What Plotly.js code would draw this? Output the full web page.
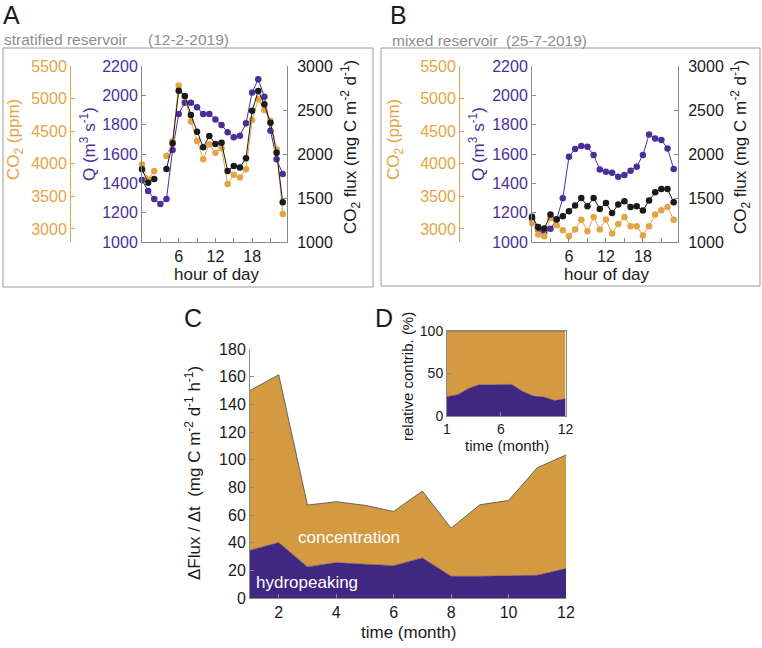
<!DOCTYPE html>
<html><head><meta charset="utf-8">
<script src="https://cdn.plot.ly/plotly-3.0.1.min.js"></script>
<style>html,body{margin:0;padding:0;background:#fff}#chart{width:762px;height:648px}</style>
</head><body><div id="chart"></div>
<script>
// ---------- data ----------
const hours = [0,1,2,3,4,5,6,7,8,9,10,11,12,13,14,15,16,17,18,19,20,21,22,23];
const hourTickVals = [3,6,9,12,15,18,21];
const hourTickText = ['', '6', '', '12', '', '18', ''];

// Panel A: stratified reservoir (12-2-2019)
const A_co2  = [3990,3760,3890,null,4120,4350,5200,5030,4650,4350,4070,4300,4170,4240,3690,3830,3790,3915,4670,4990,4825,4660,4220,3230];
const A_Q    = [1423,1348,1293,1259,1293,1627,1873,1950,1950,1918,1873,1873,1836,1798,1748,1714,1725,1809,2020,2109,1991,1759,1564,1464];
const A_flux = [1826,1674,1716,null,1830,2121,2720,2659,2443,2254,2076,2205,2114,2129,1807,1864,1848,1951,2492,2716,2564,2356,2015,1451];

// Panel B: mixed reservoir (25-7-2019)
const B_co2  = [3092,2914,2888,3169,3057,2980,2888,2990,3140,2965,3182,2990,3144,2929,3077,3184,3041,3041,2899,3041,3220,3287,3338,3140];
const B_Q    = [1160,1085,1070,1090,1155,1298,1581,1634,1654,1649,1593,1495,1479,1473,1445,1457,1486,1513,1593,1733,1706,1695,1638,1498];
const B_flux = [1288,1171,1152,1312,1255,1292,1349,1414,1501,1406,1501,1376,1444,1330,1426,1463,1398,1406,1357,1471,1566,1603,1603,1452];

// Panel C: monthly stacked contributions
const months = [1,2,3,4,5,6,7,8,9,10,11,12];
const C_hydro = [34.5,40.1,22.5,25.6,24.4,23.4,29.0,15.7,15.7,16.0,16.4,21.3];
const C_conc  = [115.5,121.3,44.7,44.0,42.6,39.2,48.3,34.8,51.7,54.5,77.8,82.1];

// Panel D: relative contribution of hydropeaking (%)
const D_hydroShare = [22.7,25.0,32.4,36.7,36.7,37.1,37.2,29.0,23.4,22.3,18.2,20.3];

// ---------- styling ----------
const W = 762, H = 648;
const FONT = 'Liberation Sans, Arial, sans-serif';
const PURPLE = '#4A2F9A', ORANGE = '#E2A544', BLACK = '#1a1a1a';
const PURPLE_FILL = '#3F2782', ORANGE_FILL = '#D39A42';
const AXGRAY = '#8a8a8a';
const fx = p => p / W;
const fy = p => 1 - p / H;

function lt(x, y, xa, ya, color) {
  return {type:'scatter', mode:'lines+markers', x:x, y:y, xaxis:xa, yaxis:ya,
    line:{color:color, width:1}, marker:{color:color, size:6.5}, hoverinfo:'skip', cliponaxis:false};
}

const traces = [
  lt(hours, A_Q, 'x', 'y', PURPLE),
  lt(hours, A_co2, 'x', 'y2', ORANGE),
  lt(hours, A_flux, 'x', 'y3', BLACK),
  lt(hours, B_Q, 'x2', 'y4', PURPLE),
  lt(hours, B_co2, 'x2', 'y5', ORANGE),
  lt(hours, B_flux, 'x2', 'y6', BLACK),
  {type:'scatter', mode:'lines', x:months, y:C_hydro, xaxis:'x3', yaxis:'y7', stackgroup:'c',
    fillcolor:PURPLE_FILL, line:{color:PURPLE_FILL, width:0.5}, hoverinfo:'skip'},
  {type:'scatter', mode:'lines', x:months, y:C_conc, xaxis:'x3', yaxis:'y7', stackgroup:'c',
    fillcolor:ORANGE_FILL, line:{color:'#4a4a4a', width:0.8}, hoverinfo:'skip'},
  {type:'scatter', mode:'lines', x:months, y:D_hydroShare, xaxis:'x4', yaxis:'y8', stackgroup:'d',
    fillcolor:PURPLE_FILL, line:{color:PURPLE_FILL, width:0.5}, hoverinfo:'skip'},
  {type:'scatter', mode:'lines', x:months, y:D_hydroShare.map(v => 100 - v), xaxis:'x4', yaxis:'y8', stackgroup:'d',
    fillcolor:ORANGE_FILL, line:{color:'#6b5a35', width:0.8}, hoverinfo:'skip'}
];

const tf = (c, s) => ({family:FONT, size:s || 16, color:c || BLACK});
const base = {showgrid:false, zeroline:false, showline:true, linecolor:AXGRAY, linewidth:1,
  ticks:'inside', ticklen:4, tickcolor:AXGRAY, tickfont:tf(BLACK), fixedrange:true};

const hx = (dom, anchor) => Object.assign({}, base, {domain:dom, anchor:anchor, range:[0, 23.7],
  tickmode:'array', tickvals:hourTickVals, ticktext:hourTickText});
const qy = (dom, anchor) => Object.assign({}, base, {domain:dom, anchor:anchor, range:[1000, 2200],
  dtick:200, tick0:1000, tickfont:tf(PURPLE)});
const cy = (over, pos) => Object.assign({}, base, {overlaying:over, anchor:'free', position:pos, side:'left',
  range:[2800, 5500], tickmode:'array', tickvals:[3000,3500,4000,4500,5000,5500],
  linecolor:ORANGE, tickcolor:ORANGE, tickfont:tf(ORANGE)});
const fyx = (over, anchor) => Object.assign({}, base, {overlaying:over, anchor:anchor, side:'right',
  range:[1000, 3000], dtick:500, tick0:1000, ticklabelstandoff:6});

const yDomAB = [fy(242), fy(66)];

const layout = {
  width:W, height:H, margin:{l:0, r:0, t:0, b:0},
  paper_bgcolor:'#ffffff', plot_bgcolor:'rgba(0,0,0,0)', showlegend:false,
  font:{family:FONT, size:16, color:BLACK},
  xaxis: hx([fx(142), fx(287)], 'y'),
  yaxis: qy(yDomAB, 'x'),
  yaxis2: cy('y', fx(70)),
  yaxis3: fyx('y', 'x'),
  xaxis2: hx([fx(532), fx(678)], 'y4'),
  yaxis4: qy(yDomAB, 'x2'),
  yaxis5: cy('y4', fx(459)),
  yaxis6: fyx('y4', 'x2'),
  xaxis3: Object.assign({}, base, {domain:[fx(250), fx(566)], anchor:'y7', range:[1, 12],
    tickmode:'array', tickvals:[2,4,6,8,10,12]}),
  yaxis7: Object.assign({}, base, {domain:[fy(598), fy(349)], anchor:'x3', range:[0, 180], dtick:20, tick0:0}),
  xaxis4: Object.assign({}, base, {domain:[fx(447), fx(565.5)], anchor:'y8', range:[1, 12], mirror:true,
    tickmode:'array', tickvals:[1,6,12], tickfont:tf(BLACK, 14)}),
  yaxis8: Object.assign({}, base, {domain:[fy(416), fy(331)], anchor:'x4', range:[0, 100], mirror:true,
    tickmode:'array', tickvals:[0,50,100], tickfont:tf(BLACK, 14)}),
  shapes: [
    {type:'rect', xref:'paper', yref:'paper', x0:fx(3), x1:fx(373), y0:fy(287), y1:fy(48),
      line:{color:'#9a9a9a', width:1}, fillcolor:'rgba(0,0,0,0)', layer:'below'},
    {type:'rect', xref:'paper', yref:'paper', x0:fx(381), x1:fx(760), y0:fy(286), y1:fy(48),
      line:{color:'#9a9a9a', width:1}, fillcolor:'rgba(0,0,0,0)', layer:'below'}
  ],
  annotations: []
};

function ann(text, x, y, o) {
  o = o || {};
  layout.annotations.push(Object.assign({text:text, x:fx(x), y:fy(y), xref:'paper', yref:'paper',
    showarrow:false, xanchor:'center', yanchor:'middle',
    font:{family:FONT, size:o.size || 17, color:o.color || BLACK}}, o.extra || {}));
}
// panel letters
ann('A', 11, 15, {size:25});
ann('B', 398, 15, {size:25});
ann('C', 193, 318, {size:25});
ann('D', 384, 318, {size:25});
// subtitles
ann('stratified reservoir', 2, 39, {size:15.5, color:'#8e8e8e', extra:{xanchor:'left'}});
ann('(12-2-2019)', 146, 39, {size:15.5, color:'#8e8e8e', extra:{xanchor:'left'}});
ann('mixed reservoir', 390, 40, {size:15.5, color:'#8e8e8e', extra:{xanchor:'left'}});
ann('(25-7-2019)', 504, 40, {size:15.5, color:'#8e8e8e', extra:{xanchor:'left'}});
// A / B axis titles
const rot = {textangle:-90};
ann('CO<sub>2</sub> (ppm)', 15, 140, {color:ORANGE, extra:rot});
ann('Q (m<sup>3</sup> s<sup>-1</sup>)', 88, 144, {color:PURPLE, extra:rot});
ann('CO<sub>2</sub> flux (mg C m<sup>-2</sup> d<sup>-1</sup>)', 350, 147, {extra:rot});
ann('hour of day', 217, 274);
ann('CO<sub>2</sub> (ppm)', 395, 140, {color:ORANGE, extra:rot});
ann('Q (m<sup>3</sup> s<sup>-1</sup>)', 477, 144, {color:PURPLE, extra:rot});
ann('CO<sub>2</sub> flux (mg C m<sup>-2</sup> d<sup>-1</sup>)', 740, 147, {extra:rot});
ann('hour of day', 607, 274);
// C titles
ann('ΔFlux / Δt  (mg C m<sup>-2</sup> d<sup>-1</sup> h<sup>-1</sup>)', 193, 473, {extra:rot});
ann('time (month)', 408, 632);
ann('concentration', 349, 537, {size:17, color:'#ffffff'});
ann('hydropeaking', 307, 582, {size:17, color:'#ffffff'});
// D titles
ann('relative contrib. (%)', 407, 377, {size:15, extra:rot});
ann('time (month)', 507, 445, {size:15});

Plotly.newPlot('chart', traces, layout, {displayModeBar:false, staticPlot:true});
</script></body></html>
